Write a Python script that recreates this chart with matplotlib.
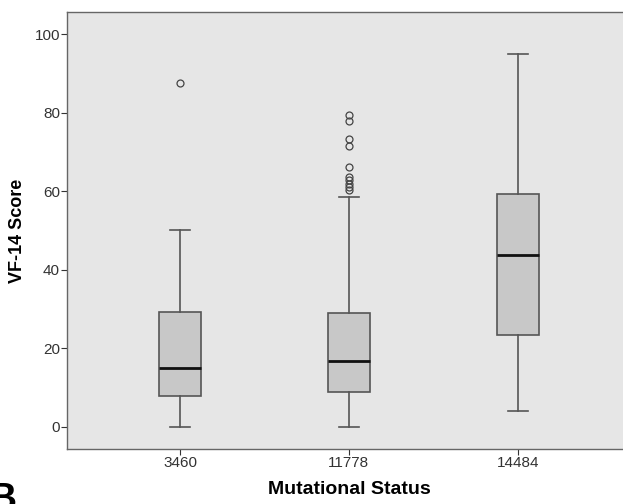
import matplotlib
matplotlib.use("Agg")
import matplotlib.pyplot as plt

plt.rcParams['font.family'] = ['Liberation Sans', 'DejaVu Sans']

groups = ["3460", "11778", "14484"]
whisker_low = [0.0, 0.0, 4.1]
q1 = [7.9, 8.9, 23.3]
median = [15.0, 16.7, 43.8]
q3 = [29.3, 29.0, 59.2]
whisker_high = [50.0, 58.4, 94.8]
outliers = [
    [87.6],
    [79.4, 77.9, 73.4, 71.6, 66.2, 63.7, 62.8, 61.8, 61.0, 60.3],
    [],
]

stats = []
for i in range(len(groups)):
    stats.append({
        "whislo": whisker_low[i], "q1": q1[i], "med": median[i],
        "q3": q3[i], "whishi": whisker_high[i], "fliers": outliers[i],
        "label": groups[i],
    })

fig = plt.figure(figsize=(6.23, 5.04), dpi=100)
ax = fig.add_axes([0.1075, 0.109, 0.905, 0.867])
ax.set_facecolor("#e6e6e6")

edge = "#555555"
ax.bxp(stats, positions=[1, 2, 3], widths=0.25, patch_artist=True,
       boxprops=dict(facecolor="#c8c8c8", edgecolor=edge, linewidth=1.2),
       medianprops=dict(color="#111111", linewidth=2),
       whiskerprops=dict(color=edge, linewidth=1.2),
       capprops=dict(color=edge, linewidth=1.2),
       capwidths=0.12,
       flierprops=dict(marker="o", markerfacecolor="none", markeredgecolor="#444444",
                       markersize=5, markeredgewidth=0.9))

ax.set_xlim(0.33, 3.67)
ax.set_ylim(-5.7, 105.6)
ax.set_yticks([0, 20, 40, 60, 80, 100])
ax.tick_params(axis="both", labelsize=11, colors="#333333", length=4, width=0.8)
ax.tick_params(axis="x", pad=1)
ax.tick_params(axis="y", pad=1)
for s in ax.spines.values():
    s.set_color("#666666")
    s.set_linewidth(1.0)

ax.set_ylabel("VF-14 Score", fontsize=13, fontweight="bold", labelpad=6)
ax.set_xlabel("Mutational Status", fontsize=14, fontweight="bold", labelpad=8)

# panel letter, clipped at the corner like in the source figure
fig.text(-0.018, -0.012, "B", fontsize=28, fontweight="bold", ha="left", va="baseline")

fig.savefig("out.png", dpi=100)
